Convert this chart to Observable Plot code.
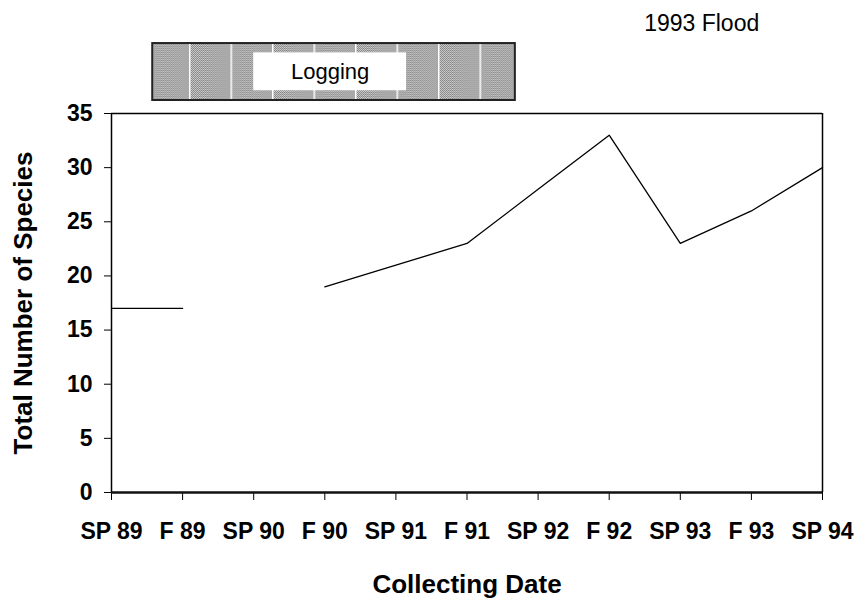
<!DOCTYPE html>
<html><head><meta charset="utf-8">
<script src="https://cdn.jsdelivr.net/npm/d3@7"></script>
<script src="https://cdn.jsdelivr.net/npm/@observablehq/plot@0.6"></script>
<style>html,body{margin:0;padding:0;background:#fff}</style>
</head><body><div id="chart"></div>
<script>
// Data
const dates = ["SP 89","F 89","SP 90","F 90","SP 91","F 91","SP 92","F 92","SP 93","F 93","SP 94"];
const species = [17, 17, null, 19, 21, 23, 28, 33, 23, 26, 30];
const yTicks = [0, 5, 10, 15, 20, 25, 30, 35];
const xTitle = "Collecting Date";
const yTitle = "Total Number of Species";
// Annotations (in date-index / species units)
const loggingLabel = "Logging";
const loggingSpan = {x1: 0.58, x2: 5.68, y1: 36.2, y2: 41.46};
const loggingLabelBox = {x1: 2.0, x2: 4.15, y1: 37.1, y2: 40.6};
const floodLabel = "1993 Flood";
const floodPos = {x: 9.11, y: 43.3};
const yTitlePos = {x: -1.24, y: 17.5};

const rows = species.map((v, i) => ({i, v}));

const chart = Plot.plot({
  width: 856, height: 607,
  marginTop: 113, marginBottom: 115, marginLeft: 111, marginRight: 34,
  style: {fontFamily: "'Liberation Sans', Arial, sans-serif", fontSize: "23px", fontWeight: "bold", color: "#000", background: "#fff", overflow: "visible"},
  x: {domain: [0, dates.length - 1], ticks: d3.range(dates.length), tickFormat: i => dates[i],
      tickSize: 8, tickPadding: 22, label: null},
  y: {domain: [0, 35], ticks: yTicks, tickSize: 7, tickPadding: 12, label: null},
  marks: [
    Plot.ruleY([35], {stroke: "#000", strokeWidth: 1.5}),
    Plot.ruleX([dates.length - 1], {y1: 0, y2: 35, stroke: "#000", strokeWidth: 1.5}),
    Plot.ruleX([0], {y1: 0, y2: 35, stroke: "#000", strokeWidth: 1.5}),
    Plot.ruleY([0], {stroke: "#111", strokeWidth: 2.5}),
    Plot.line(rows, {x: "i", y: "v", stroke: "#000", strokeWidth: 1.3}),
    Plot.rect([loggingSpan], {x1: "x1", x2: "x2", y1: "y1", y2: "y2", fill: "url(#hatch)", stroke: "#222", strokeWidth: 2}),
    Plot.rect([loggingLabelBox], {x1: "x1", x2: "x2", y1: "y1", y2: "y2", fill: "#fff"}),
    Plot.text([loggingLabel], {text: d => d, x: (loggingLabelBox.x1 + loggingLabelBox.x2) / 2, y: (loggingLabelBox.y1 + loggingLabelBox.y2) / 2,
      fontSize: 22, fontWeight: "normal", fill: "#000"}),
    Plot.text([floodLabel], {text: d => d, x: floodPos.x, y: floodPos.y, textAnchor: "end",
      fontSize: 23, fontWeight: "normal", fill: "#000"}),
    Plot.text([xTitle], {text: d => d, frameAnchor: "bottom", dy: 100, fontSize: 26, fontWeight: "bold", fill: "#000"}),
    Plot.text([yTitle], {text: d => d, x: yTitlePos.x, y: yTitlePos.y, rotate: -90, fontSize: 26, fontWeight: "bold", fill: "#000"})
  ]
});

// hatch pattern defs
const svg = d3.select(chart);
const defs = svg.insert("defs", ":first-child");
const dots = defs.append("pattern").attr("id", "dots").attr("patternUnits", "userSpaceOnUse")
  .attr("width", 2).attr("height", 2);
dots.append("rect").attr("width", 2).attr("height", 2).attr("fill", "#d8d8d8");
dots.append("rect").attr("width", 1).attr("height", 1).attr("fill", "#7a7a7a");
dots.append("rect").attr("x", 1).attr("y", 1).attr("width", 1).attr("height", 1).attr("fill", "#7a7a7a");
const hatch = defs.append("pattern").attr("id", "hatch").attr("patternUnits", "userSpaceOnUse")
  .attr("x", 189).attr("width", 41.5).attr("height", 10);
hatch.append("rect").attr("width", 41.5).attr("height", 10).attr("fill", "url(#dots)");
hatch.append("rect").attr("width", 1.5).attr("height", 10).attr("fill", "#fff");

document.getElementById("chart").appendChild(chart);
</script>
</body></html>
